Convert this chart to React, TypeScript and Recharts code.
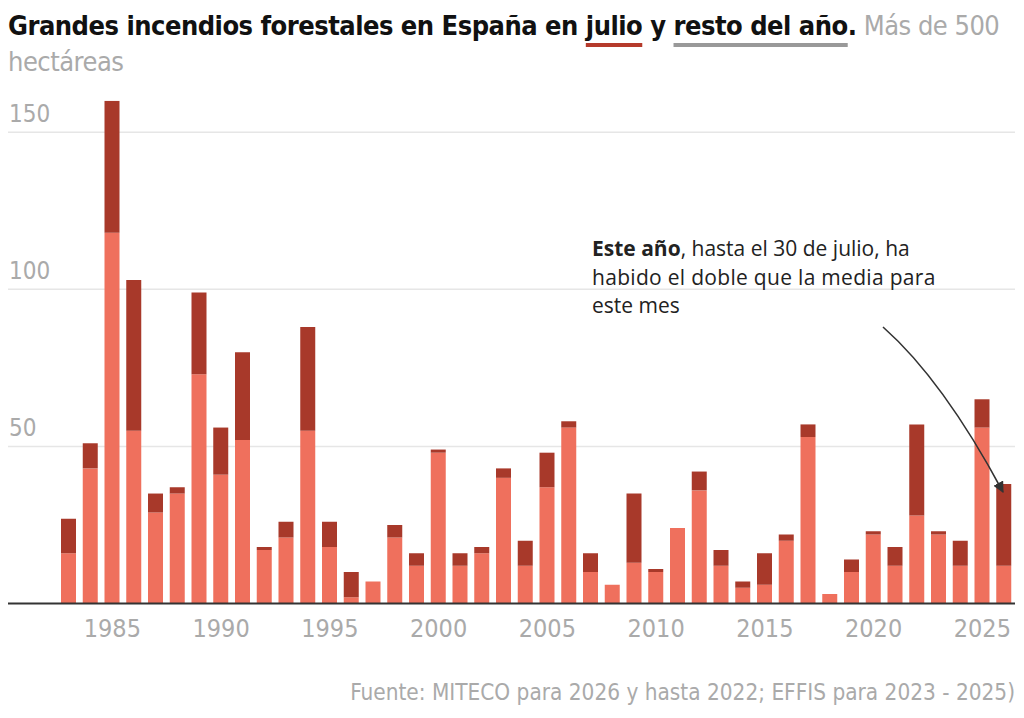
import React from 'react';
import { BarChart, Bar, XAxis, YAxis, CartesianGrid } from 'recharts';

const years = [1983,1984,1985,1986,1987,1988,1989,1990,1991,1992,1993,1994,1995,1996,1997,1998,1999,2000,2001,2002,2003,2004,2005,2006,2007,2008,2009,2010,2011,2012,2013,2014,2015,2016,2017,2018,2019,2020,2021,2022,2023,2024,2025,2026];
const restoDelAno = [16,43,118,55,29,35,73,41,52,17,21,55,18,2,7,21,12,48,12,16,40,12,37,56,10,6,13,10,24,36,12,5,6,20,53,3,10,22,12,28,22,12,56,12];
const julio = [11,8,42,48,6,2,26,15,28,1,5,33,8,8,0,4,4,1,4,2,3,8,11,2,6,0,22,1,0,6,5,2,10,2,4,0,4,1,6,29,1,8,9,26];
const yTicks = [0, 50, 100, 150];
const gridValues = [50, 100, 150];
const xLabelYears = [1985, 1990, 1995, 2000, 2005, 2010, 2015, 2020, 2025];

const data = years.map((y, i) => ({ year: y, resto: restoDelAno[i], julio: julio[i] }));

const COND = '"DejaVu Sans Condensed", "Liberation Sans Narrow", sans-serif';
const SANS = '"Open Sans", "Noto Sans", sans-serif';
const SALMON = '#EF705D';
const DARK = '#A8392A';
const GRAY = '#AAAAAA';

const XTick = (props: any) => {
  const { x, y, payload } = props;
  if (!xLabelYears.includes(Number(payload.value))) return null;
  return (
    <text x={x} y={y + 33} textAnchor="middle" fill={GRAY} fontSize={25} fontFamily={COND}>
      {payload.value}
    </text>
  );
};

const YTick = (props: any) => {
  const { y, payload } = props;
  if (Number(payload.value) === 0) return null;
  return (
    <text x={1} y={y - 10} textAnchor="start" fill={GRAY} fontSize={24} fontFamily={COND}>
      {payload.value}
    </text>
  );
};

export default function App() {
  return (
    <div style={{ position: 'relative', width: 1008, height: 702, fontFamily: COND }}>
      <div style={{ position: 'absolute', left: 0, top: 0, width: 1008, fontSize: 27, lineHeight: '36px', color: '#111', letterSpacing: '-0.5px', whiteSpace: 'nowrap' }}>
        <span style={{ fontWeight: 700 }}>
          Grandes incendios forestales en España en{' '}
          <span style={{ textDecoration: 'underline', textDecorationColor: '#B53A2B', textDecorationThickness: '4px', textUnderlineOffset: '8px' }}>julio</span>
          {' '}y{' '}
          <span style={{ textDecoration: 'underline', textDecorationColor: '#999999', textDecorationThickness: '4px', textUnderlineOffset: '8px' }}>resto del año</span>.
        </span>
        <span style={{ color: GRAY }}> Más de 500<br />hectáreas</span>
      </div>
      <div style={{ position: 'absolute', left: 0, top: 0 }}>
        <BarChart width={1008} height={660} data={data} margin={{ top: 92.8, right: 1, bottom: 24.5, left: 0 }}>
          <CartesianGrid horizontal vertical={false} stroke="#E6E6E6" strokeWidth={1.5} horizontalValues={gridValues} />
          <YAxis domain={[0, 160]} ticks={yTicks} width={1} mirror axisLine={false} tickLine={false} tick={YTick} interval={0} allowDataOverflow />
          <XAxis dataKey="year" height={40} interval={0} tickLine={false} tickSize={0} tickMargin={0} axisLine={{ stroke: '#333', strokeWidth: 2 }} tick={XTick} padding={{ left: 50, right: 0 }} />
          <Bar dataKey="resto" stackId="a" fill={SALMON} barSize={15} isAnimationActive={false} />
          <Bar dataKey="julio" stackId="a" fill={DARK} barSize={15} isAnimationActive={false} />
        </BarChart>
      </div>
      <svg width={1008} height={702} style={{ position: 'absolute', left: 0, top: 0, pointerEvents: 'none' }}>
        <defs>
          <marker id="ah" viewBox="0 0 10 10" refX="9" refY="5" markerWidth="7" markerHeight="7" orient="auto">
            <path d="M0,0 L10,5 L0,10 z" fill="#333" />
          </marker>
        </defs>
        <text x={584} y={248} fontFamily={SANS} fontSize={21} fill="#222">
          <tspan fontWeight={700}>Este año</tspan>, hasta el 30 de julio, ha
        </text>
        <text x={584} y={277} fontFamily={SANS} fontSize={21} fill="#222" letterSpacing={0.3}>habido el doble que la media para</text>
        <text x={584} y={305} fontFamily={SANS} fontSize={21} fill="#222">este mes</text>
        <path d="M875,319 Q935,372 995,484" fill="none" stroke="#333" strokeWidth={1.6} markerEnd="url(#ah)" />
        <text x={1007} y={692} textAnchor="end" fontFamily={COND} fontSize={22.4} fill={GRAY}>
          Fuente: MITECO para 2026 y hasta 2022; EFFIS para 2023 - 2025)
        </text>
      </svg>
    </div>
  );
}
